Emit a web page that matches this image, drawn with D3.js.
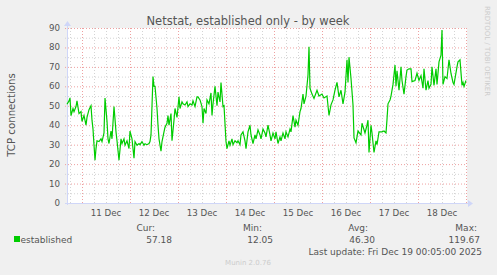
<!DOCTYPE html>
<html>
<head>
<meta charset="utf-8">
<script src="https://cdn.jsdelivr.net/npm/d3@7"></script>
<style>
  body { margin: 0; background: #f0f0f0; }
  svg { display: block; font-family: "DejaVu Sans", sans-serif; }
</style>
</head>
<body>
<svg width="497" height="275"></svg>
<script>
// munin netstat, week view. times are hours after startTime
var startTime = Date.UTC(2025, 11, 10, 16, 30),
	endTime = Date.UTC(2025, 11, 19, 0, 30);

var hours = [0,1,1.5,2,3,3.5,4.5,5,6,7,7.5,8.5,9.5,10,11,12,12.5,13,14,14.5,15,16,17,17.5,18.5,19,20,20.5,21,22,22.5,23.5,24.5,25,26,27,27.5,28.5,29,30,31,31.5,32.5,33.5,34,35,36,36.5,37.5,38.5,39,40,41,41.5,42,43,43.5,44,45,45.5,46,47,47.5,48.5,49,50,50.5,51,52,52.5,53.5,54,55,56,56.5,57.5,58,59,60,60.5,61.5,62.5,63,64,65,65.5,66.5,67.5,68,68.5,69.5,70,71,72,72.5,73,74,75,75.5,76.5,77,78,78.5,79.5,80,81,81.5,82.5,83,84,85,85.5,86.5,87,88,89,89.5,90.5,91.5,92,93,94,94.5,95.5,96.5,97,98,99,99.5,100.5,101.5,102,103,104,104.5,105.5,106.5,107,108,109,109.5,110.5,111.5,112,113,114,114.5,115.5,116.5,117,118,118.5,119.5,120.5,121,121.5,122.5,123.5,125,126,127.5,128.5,130,131,132,133,134,135,136,137,138,139,140,140.5,141,142,143,143.5,144.5,145.5,147,147.5,149,150,150.5,151,152,152.5,153.5,154.5,155,156,157.5,158.5,159.5,160,160.5,161.5,162,163,164,164.5,165,166,167,167.5,168.5,169.5,170,171,172,172.5,174,175,176,177,178,178.5,179.5,180.5,181,182,182.5,183.5,184.5,185,186,187,187.5,188,189,190,191,192,193,193.5,195,195.5,196.5,197.5,198,198.5,199.5];

var established = [50.8,52.5,54,45,48.6,47,49.6,52.5,46,47,42,45,40,44,48,50,42.6,38,22,28,32,31.6,33,31.6,36,54,42,33,30.6,37,33,49.6,36.6,32,22,33,30.6,33,29.7,32,28,37,33,23,31.6,29.7,30.6,30,31.6,29.7,30.5,30,30.6,31.6,35,65,60,60,48.6,40,33,26.7,31.6,36.6,39,41,45,40,46,32,42.6,48.6,44,54.6,48.6,52,51,50.4,52,49.6,51,50.4,52.5,49.6,54.6,54.6,53,49.6,41,48.6,46,53,51,56.6,45,51,60,50,57,52,62,49.6,50,31.6,28,32,29.7,33,30,32,31,32,30,35,36.6,32,28,36.6,40,35,30.6,35,33,37.6,35,33,38,36,34,40,35,32,36,33,36.6,30.6,34,32,36,33,36.6,34,38,36.6,45,39,42.6,40,47,48.6,56,51,55,65.8,80.4,59,56,53.8,58,55,56,54,55,45,50.5,53,58,62,54.6,58,51,57,73.6,62,75,64,50.5,33.5,31,37,35,41,36,40,42.6,26,40,36,26,32,30,36.6,36.6,37,36,43,51,53,55,61,71,60,68,58,70,63,56,65,68.4,69,69,62.4,63,66.7,63,65.5,59,69,58,63,59,61,70,60.5,69,61,72.6,76,89,61,65,64,73.6,66.6,62,61,70,72.6,73.6,60.5,62,60,63];

var statNames = ["Cur:", "Min:", "Avg:", "Max:"],
	statValues = ["57.18", "12.05", "46.30", "119.67"];

var svg = d3.select("svg"),
	plotL = 67, plotR = 467, plotT = 28, plotB = 203;

var x = d3.scaleUtc().domain([startTime, endTime]).range([plotL, plotR]),
	y = d3.scaleLinear().domain([0, 90]).range([plotB, plotT]);

var points = hours.map(function(h, i) { return [startTime + h * 3600000, established[i]]; });

// canvas
svg.append("rect").attr("x", plotL).attr("y", plotT).attr("width", plotR - plotL).attr("height", plotB - plotT).attr("fill", "#fff");

// grid: minor gray, major red
var g = svg.append("g").attr("fill", "none").attr("stroke-dasharray", "1,2");
d3.range(5, 91, 10).forEach(function(v) {
	g.append("line").attr("x1", plotL - 2).attr("x2", plotR).attr("y1", y(v) + 0.5).attr("y2", y(v) + 0.5).attr("stroke", "#d4d4d4");
});
d3.utcHour.every(6).range(new Date(startTime), new Date(endTime)).forEach(function(t) {
	if (t.getUTCHours() == 0) return;
	g.append("line").attr("x1", x(t) + 0.5).attr("x2", x(t) + 0.5).attr("y1", plotT).attr("y2", plotB + 2).attr("stroke", "#d4d4d4");
});
d3.range(10, 91, 10).forEach(function(v) {
	g.append("line").attr("x1", plotL - 2).attr("x2", plotR).attr("y1", y(v) + 0.5).attr("y2", y(v) + 0.5).attr("stroke", "#eea0a0");
});
var days = d3.utcDay.range(new Date(startTime), new Date(endTime));
days.forEach(function(t) {
	g.append("line").attr("x1", x(t) + 0.5).attr("x2", x(t) + 0.5).attr("y1", plotT).attr("y2", plotB + 2).attr("stroke", "#eea0a0");
});

// axes with arrows
var axisCol = "#cfd6f8";
svg.append("line").attr("x1", plotL + 0.5).attr("x2", plotL + 0.5).attr("y1", plotB + 2).attr("y2", plotT - 4).attr("stroke", axisCol);
svg.append("line").attr("x1", plotL - 2).attr("x2", plotR + 2).attr("y1", plotB + 0.5).attr("y2", plotB + 0.5).attr("stroke", axisCol);
svg.append("path").attr("d", "M" + (plotL - 3) + "," + (plotT - 2) + "L" + (plotL + 0.5) + "," + (plotT - 7) + "L" + (plotL + 4) + "," + (plotT - 2) + "Z").attr("fill", axisCol);
svg.append("path").attr("d", "M" + (plotR + 1) + "," + (plotB - 3) + "L" + (plotR + 6) + "," + (plotB + 0.5) + "L" + (plotR + 1) + "," + (plotB + 4) + "Z").attr("fill", axisCol);

// y tick labels
svg.append("g").selectAll("text").data(y.ticks(9)).join("text")
	.attr("x", 60).attr("y", function(d) { return y(d); }).attr("dy", "0.35em")
	.attr("text-anchor", "end").attr("font-size", 8.7).attr("fill", "#555")
	.text(function(d) { return d; });

// x labels at noon
var fmt = d3.utcFormat("%-d %b");
svg.append("g").selectAll("text").data(days.filter(function(t) { return +t + 43200000 < endTime; })).join("text")
	.attr("x", function(t) { return x(+t + 43200000); }).attr("y", 216)
	.attr("text-anchor", "middle").attr("font-size", 8.7).attr("fill", "#555")
	.text(function(t) { return fmt(t); });

// the series
var line = d3.line().x(function(d) { return x(d[0]); }).y(function(d) { return y(d[1]); });
svg.append("path").datum(points).attr("d", line).attr("fill", "none").attr("stroke", "#00cc00").attr("stroke-width", 1.2);

// texts
svg.append("text").attr("x", 248).attr("y", 25).attr("text-anchor", "middle").attr("font-size", 11.5).attr("fill", "#555")
	.text("Netstat, established only - by week");
svg.append("text").attr("transform", "translate(15,115) rotate(-90)").attr("text-anchor", "middle").attr("font-size", 10.2).attr("fill", "#555")
	.text("TCP connections");
svg.append("text").attr("transform", "translate(485,51) rotate(90)").attr("text-anchor", "middle").attr("font-size", 7).attr("fill", "#ccc")
	.text("RRDTOOL / TOBI OETIKER");

// legend
svg.append("rect").attr("x", 14).attr("y", 236).attr("width", 6).attr("height", 6).attr("fill", "#00cc00");
svg.append("text").attr("x", 20.5).attr("y", 243).attr("font-size", 9).attr("fill", "#555").text("established");
var nameX = [155, 262, 368, 477], valX = [172, 273, 375, 480];
statNames.forEach(function(s, i) {
	svg.append("text").attr("x", nameX[i]).attr("y", 231).attr("text-anchor", "end").attr("font-size", 9).attr("fill", "#555").text(s);
	svg.append("text").attr("x", valX[i]).attr("y", 243).attr("text-anchor", "end").attr("font-size", 9).attr("fill", "#555").text(statValues[i]);
});
svg.append("text").attr("x", 482).attr("y", 255).attr("text-anchor", "end").attr("font-size", 9).attr("fill", "#555")
	.text("Last update: Fri Dec 19 00:05:00 2025");
svg.append("text").attr("x", 248).attr("y", 265).attr("text-anchor", "middle").attr("font-size", 7).attr("fill", "#ccc")
	.text("Munin 2.0.76");
</script>
</body>
</html>
